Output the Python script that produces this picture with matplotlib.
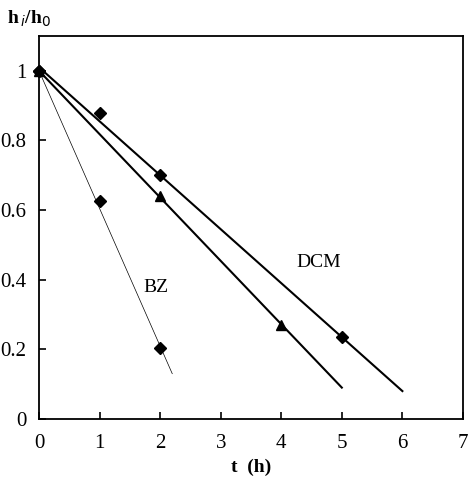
import matplotlib
matplotlib.use("Agg")
import matplotlib.pyplot as plt

plt.rcParams['font.family'] = ['Liberation Serif', 'DejaVu Serif']

# measured points
dcm_t = [0, 1, 2, 5]
dcm_h = [1.0, 0.88, 0.70, 0.235]
tri_t = [0, 2, 4]
tri_h = [1.0, 0.64, 0.27]
bz_t = [0, 1, 2]
bz_h = [1.0, 0.625, 0.205]

# fitted lines (end points)
dcm_fit_t = [0, 6]
dcm_fit_h = [1.01, 0.08]
tri_fit_t = [0, 5]
tri_fit_h = [1.0, 0.09]
bz_fit_t = [0, 2.2]
bz_fit_h = [1.0, 0.13]

fig = plt.figure(figsize=(4.7, 4.86), dpi=100)
ax = fig.add_axes([0.083, 0.138, 0.902, 0.788])

ax.plot(dcm_fit_t, dcm_fit_h, 'k-', lw=1.5)
ax.plot(tri_fit_t, tri_fit_h, 'k-', lw=1.5)
ax.plot(bz_fit_t, bz_fit_h, 'k-', lw=0.5)

ax.plot(dcm_t, dcm_h, 'kD', ms=6, clip_on=False)
ax.plot(tri_t, tri_h, 'k^', ms=7, clip_on=False)
ax.plot(bz_t, bz_h, 'kD', ms=6, clip_on=False)

ax.text(1.93, 0.377, 'BZ', fontsize=14, ha='center', va='center')
ax.text(4.62, 0.45, 'DCM', fontsize=14, ha='center', va='center')

ax.set_xlim(0, 7)
ax.set_ylim(0, 1.1)
ax.set_xticks([0, 1, 2, 3, 4, 5, 6, 7])
ax.set_yticks([0, 0.2, 0.4, 0.6, 0.8, 1.0])
ax.set_yticklabels(['0', '0.2', '0.4', '0.6', '0.8', '1'])
ax.tick_params(direction='in', length=5, labelsize=15, width=1.2)
ax.tick_params(axis='x', pad=11)
ax.tick_params(axis='y', pad=9)
for s in ax.spines.values():
    s.set_linewidth(1.3)

ax.set_xlabel('t  (h)', fontsize=14, fontweight='bold', labelpad=4)
fig.text(0.015, 0.962, r'h$_{\,i}$/h$_0$', fontsize=14, fontweight='bold',
         ha='left', va='center')

fig.savefig('out.png', dpi=100)
